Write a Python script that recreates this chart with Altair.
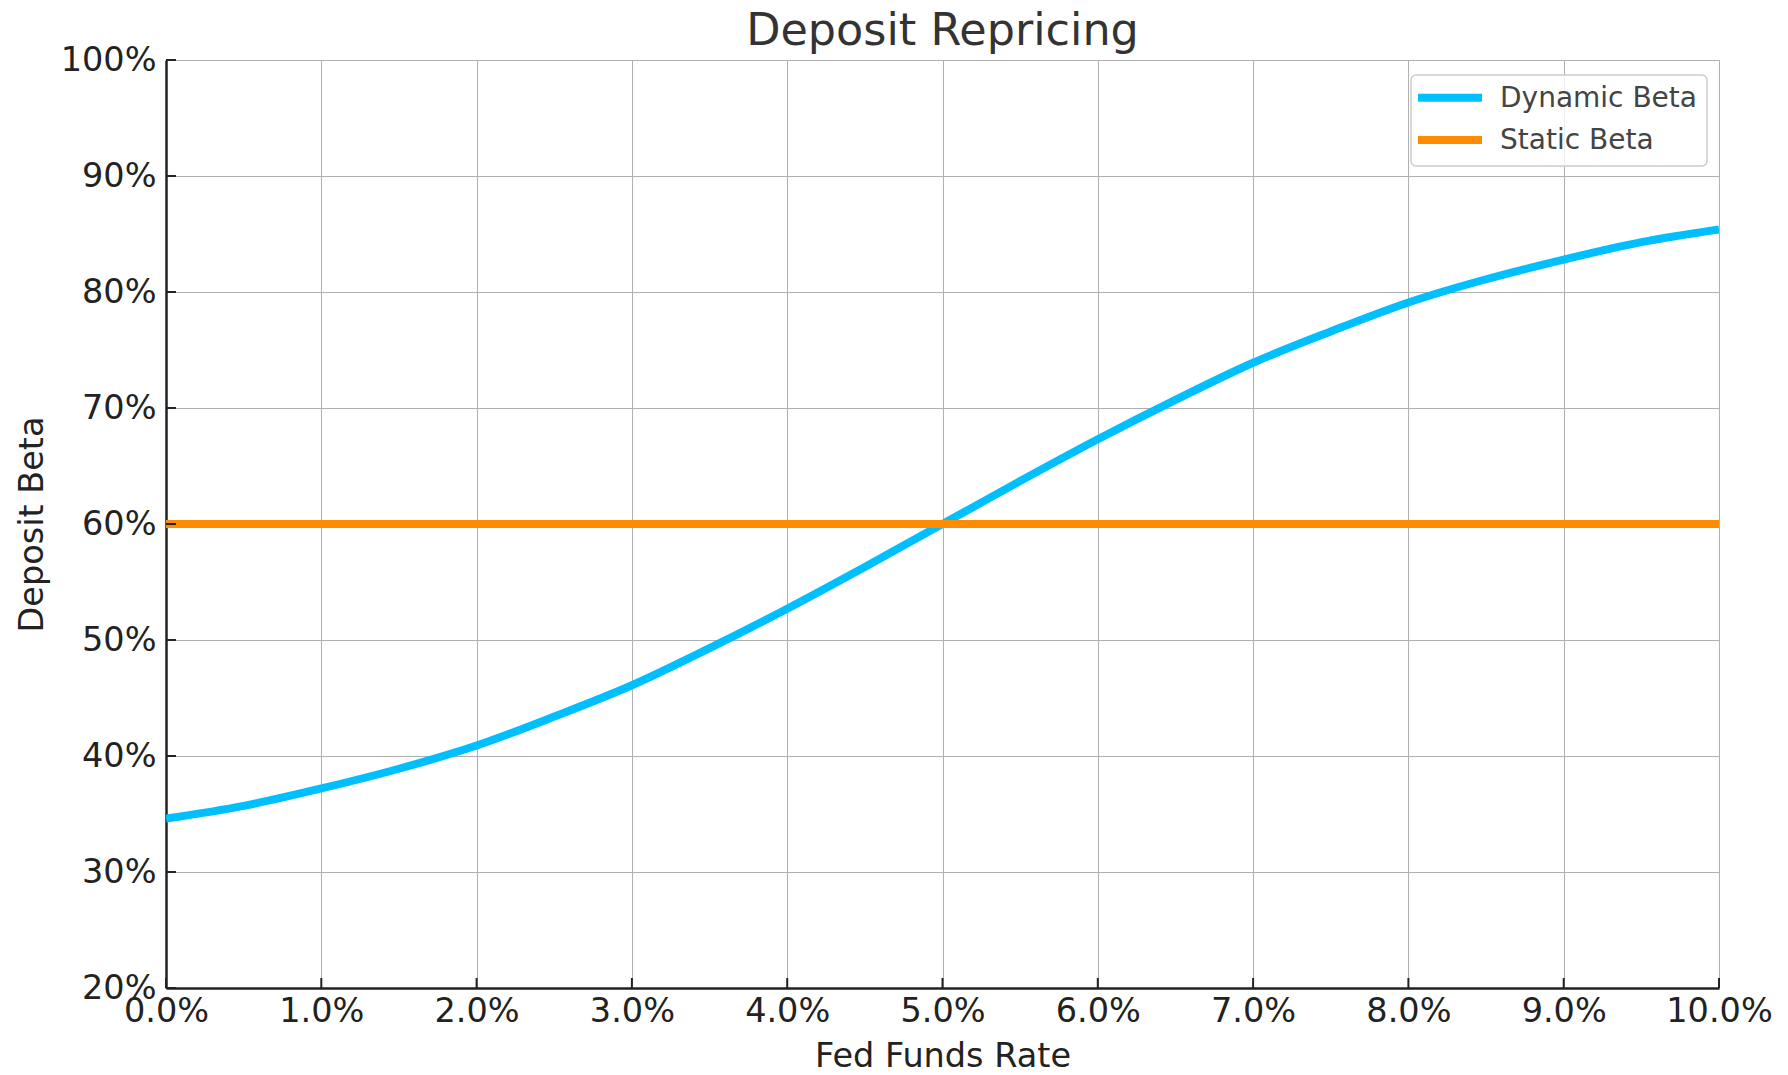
import altair as alt
import pandas as pd

# Fed funds rate (fraction) and read-off betas
fed_funds = [0.000, 0.005, 0.010, 0.015, 0.020, 0.025, 0.030, 0.035, 0.040, 0.045, 0.050,
             0.055, 0.060, 0.065, 0.070, 0.075, 0.080, 0.085, 0.090, 0.095, 0.100]
dynamic_beta = [0.346, 0.357, 0.372, 0.389, 0.409, 0.434, 0.461, 0.493, 0.527, 0.563, 0.600,
                0.637, 0.673, 0.707, 0.739, 0.766, 0.791, 0.811, 0.828, 0.843, 0.854]
static_beta = [0.60] * len(fed_funds)

series_names = ["Dynamic Beta", "Static Beta"]
series_colors = ["#00BFFF", "#FF8C00"]

x_ticks = [0.00, 0.01, 0.02, 0.03, 0.04, 0.05, 0.06, 0.07, 0.08, 0.09, 0.10]
y_ticks = [0.2, 0.3, 0.4, 0.5, 0.6, 0.7, 0.8, 0.9, 1.0]

rows = []
for x, d, s in zip(fed_funds, dynamic_beta, static_beta):
    rows.append({"rate": x, "beta": d, "series": "Dynamic Beta"})
    rows.append({"rate": x, "beta": s, "series": "Static Beta"})
df = pd.DataFrame(rows)
legend_df = pd.DataFrame({"series": series_names})

W, H = 1553, 928
FONT = "DejaVu Sans"

xscale = alt.Scale(domain=[0, 0.10], nice=False, zero=False)
yscale = alt.Scale(domain=[0.2, 1.0], nice=False, zero=False)
cscale = alt.Scale(domain=series_names, range=series_colors)

lines = alt.Chart(df).mark_line(strokeWidth=8, clip=True, interpolate="monotone").encode(
    x=alt.X("rate:Q", scale=xscale, title="Fed Funds Rate",
            axis=alt.Axis(values=x_ticks, format=".1%", labelFlush=False, labelOverlap=False,
                          tickSize=0, labelPadding=7, titleBaseline="alphabetic", titleY=78)),
    y=alt.Y("beta:Q", scale=yscale, title="Deposit Beta",
            axis=alt.Axis(values=y_ticks, format=".0%", labelOverlap=False,
                          tickSize=0, labelPadding=10, titleBaseline="alphabetic", titleX=-124)),
    color=alt.Color("series:N", sort=series_names, scale=cscale, legend=None),
)

xt = alt.Chart(pd.DataFrame({"t": x_ticks})).mark_rule(color="#222222", strokeWidth=2).encode(
    x=alt.X("t:Q", scale=xscale), y=alt.value(H), y2=alt.value(H - 10))
yt = alt.Chart(pd.DataFrame({"t": y_ticks})).mark_rule(color="#222222", strokeWidth=2).encode(
    y=alt.Y("t:Q", scale=yscale), x=alt.value(0), x2=alt.value(10))

# custom legend (matplotlib style)
box = alt.Chart(pd.DataFrame({"k": [0]})).mark_rect(
    fill="white", fillOpacity=0.8, stroke="#cccccc", strokeWidth=1.5, cornerRadius=5).encode(
    x=alt.value(1245), x2=alt.value(1541), y=alt.value(15), y2=alt.value(106))

legend_layers = [box]
for i, name in enumerate(series_names):
    ypos = 37.7 + i * 42.2
    base = alt.Chart(legend_df).transform_filter(alt.datum.series == name)
    legend_layers.append(base.mark_rule(strokeWidth=8).encode(
        x=alt.value(1252), x2=alt.value(1316), y=alt.value(ypos),
        color=alt.Color("series:N", scale=cscale, legend=None)))
    legend_layers.append(base.mark_text(align="left", baseline="middle", fontSize=28,
                                        font=FONT, color="#444444").encode(
        x=alt.value(1334), y=alt.value(ypos + 1), text="series:N"))

chart = alt.layer(lines, xt, yt, *legend_layers).properties(
    width=W, height=H,
    autosize=alt.AutoSizeParams(type="none"),
    padding={"left": 158, "top": 52, "right": 61, "bottom": 79},
    title=alt.Title("Deposit Repricing", fontSize=44.5, font=FONT, color="#333333",
                    fontWeight="normal", offset=-11),
).configure_view(strokeWidth=0).configure_axis(
    labelFont=FONT, titleFont=FONT, labelFontSize=33.5, titleFontSize=33.5,
    labelColor="#222222", titleColor="#222222", titleFontWeight="normal",
    domainColor="#222222", domainWidth=2.5, gridColor="#b0b0b0", gridWidth=1,
)

chart.save("out.html", embed_options={"renderer": "svg", "actions": False})
